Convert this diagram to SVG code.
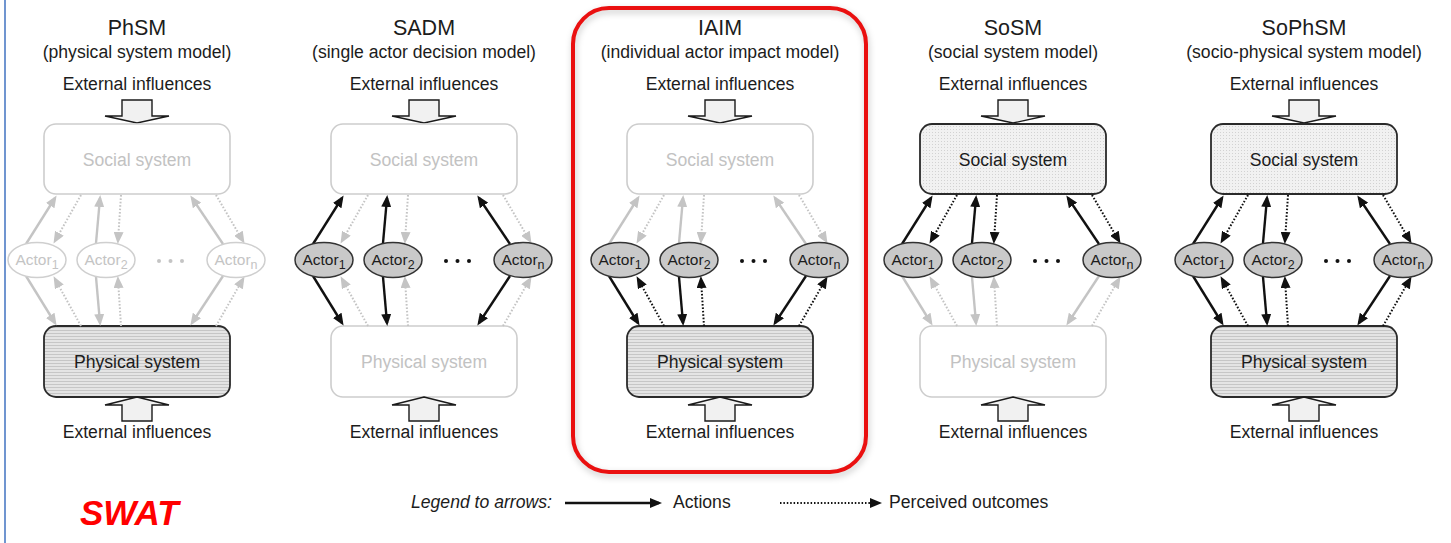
<svg xmlns="http://www.w3.org/2000/svg" width="1451" height="543" viewBox="0 0 1451 543">
<style>
text{font-family:"Liberation Sans",Arial,sans-serif;fill:#1c1c1c}
.t{font-size:21.5px;text-anchor:middle}
.st{font-size:17.6px;text-anchor:middle}
.ext{font-size:17.6px;text-anchor:middle}
.bt{font-size:17.6px;text-anchor:middle}
.btf{font-size:17.6px;text-anchor:middle;fill:#c2c2c2}
.al{font-size:15.5px;text-anchor:middle}
.alf{font-size:15.5px;text-anchor:middle;fill:#c4c4c4}
.sub{font-size:12.5px}
.boxf{fill:#fff;stroke:#cdcdcd;stroke-width:1.6}
.boxp{fill:url(#stripes);stroke:#2a2a2a;stroke-width:1.8}
.boxs{fill:url(#dots);stroke:#2a2a2a;stroke-width:1.8}
.hollow{fill:#f1f1f1;stroke:#1a1a1a;stroke-width:1.4;stroke-linejoin:miter}
.acta{fill:#c9c9c9;stroke:#333;stroke-width:1.5}
.actf{fill:#fff;stroke:#cfcfcf;stroke-width:1.5}
.dotk{fill:#111}
.dotg{fill:#c4c4c4}
.sk{stroke:#111;stroke-width:2.4;fill:none;marker-end:url(#hk)}
.sg{stroke:#c4c4c4;stroke-width:2.4;fill:none;marker-end:url(#hg)}
.dk{stroke:#111;stroke-width:2;stroke-dasharray:1.6 1.8;fill:none;marker-end:url(#hk)}
.dg{stroke:#c4c4c4;stroke-width:2;stroke-dasharray:1.6 1.8;fill:none;marker-end:url(#hg)}
</style>
<defs>
<marker id="hk" markerUnits="userSpaceOnUse" markerWidth="12" markerHeight="10" refX="9" refY="5" orient="auto">
<path d="M0,0 L12,5 L0,10 Z" fill="#111"/>
</marker>
<marker id="hg" markerUnits="userSpaceOnUse" markerWidth="12" markerHeight="10" refX="9" refY="5" orient="auto">
<path d="M0,0 L12,5 L0,10 Z" fill="#c4c4c4"/>
</marker>
<pattern id="stripes" patternUnits="userSpaceOnUse" width="6" height="3">
<rect width="6" height="3" fill="#e4e4e4"/>
<rect width="6" height="1" fill="#c6c6c6"/>
</pattern>
<pattern id="dots" patternUnits="userSpaceOnUse" width="3" height="3">
<rect width="3" height="3" fill="#f1f1f1"/>
<rect width="1" height="1" fill="#d2d2d2"/>
</pattern>
<filter id="blur" x="-10%" y="-10%" width="120%" height="120%">
<feGaussianBlur stdDeviation="3"/>
</filter>
</defs>

<line x1="5" y1="0" x2="5" y2="543" stroke="#7095d0" stroke-width="2"/>

<!-- red highlight -->
<g id="highlight">
<rect x="574" y="11" width="293" height="464" rx="36" fill="none" stroke="#000" stroke-opacity="0.18" stroke-width="5" filter="url(#blur)"/>
<rect x="573" y="8" width="293" height="464" rx="36" fill="none" stroke="#ea1010" stroke-width="4"/>
</g>

<!-- PhSM -->
<g id="phsm" transform="translate(137,0)">
<text class="t" x="0" y="35">PhSM</text>
<text class="st" x="0" y="58">(physical system model)</text>
<g id="phsm-ext-top"><text class="ext" x="0" y="90">External influences</text><path class="hollow" d="M-15,100 H15 V116 H32 L0,123 L-32,116 H-15 Z"/></g>
<g id="phsm-social"><rect class="boxf" x="-93" y="124" width="186" height="70" rx="12"/><text class="btf" x="0" y="166">Social system</text></g>
<g id="phsm-physical"><rect class="boxp" x="-93" y="326" width="186" height="71" rx="12"/><text class="bt" x="0" y="368">Physical system</text></g>
<g id="phsm-ext-bottom"><path class="hollow" d="M0,397 L32,405 H15 V421 H-15 V405 H-32 Z"/><text class="ext" x="0" y="438">External influences</text></g>
<g id="phsm-connectors">
<path class="sg" d="M-111,244 L-82,198"/><path class="dg" d="M-56,195 L-82,241"/>
<path class="sg" d="M-41,243 L-37,198"/><path class="dg" d="M-16,195 L-19,241"/>
<path class="sg" d="M86,244 L55,198"/><path class="dg" d="M79,195 L106,241"/>
<path class="sg" d="M-111,276 L-82,323"/><path class="dg" d="M-56,326 L-82,279"/>
<path class="sg" d="M-41,277 L-37,323"/><path class="dg" d="M-16,326 L-19,279"/>
<path class="sg" d="M86,276 L55,323"/><path class="dg" d="M79,326 L106,279"/>
</g>
<g id="phsm-actor1"><ellipse class="actf" cx="-100" cy="260" rx="29" ry="17.5"/><text class="alf" x="-100" y="265">Actor<tspan class="sub" dy="4">1</tspan></text></g>
<g id="phsm-actor2"><ellipse class="actf" cx="-31" cy="260" rx="29" ry="17.5"/><text class="alf" x="-31" y="265">Actor<tspan class="sub" dy="4">2</tspan></text></g>
<g id="phsm-dots"><circle class="dotg" cx="22" cy="261" r="2"/><circle class="dotg" cx="33.5" cy="261" r="2"/><circle class="dotg" cx="45" cy="261" r="2"/></g>
<g id="phsm-actorn"><ellipse class="actf" cx="99" cy="260" rx="29" ry="17.5"/><text class="alf" x="99" y="265">Actor<tspan class="sub" dy="4">n</tspan></text></g>
</g>

<!-- SADM -->
<g id="sadm" transform="translate(424,0)">
<text class="t" x="0" y="35">SADM</text>
<text class="st" x="0" y="58">(single actor decision model)</text>
<g id="sadm-ext-top"><text class="ext" x="0" y="90">External influences</text><path class="hollow" d="M-15,100 H15 V116 H32 L0,123 L-32,116 H-15 Z"/></g>
<g id="sadm-social"><rect class="boxf" x="-93" y="124" width="186" height="70" rx="12"/><text class="btf" x="0" y="166">Social system</text></g>
<g id="sadm-physical"><rect class="boxf" x="-93" y="326" width="186" height="71" rx="12"/><text class="btf" x="0" y="368">Physical system</text></g>
<g id="sadm-ext-bottom"><path class="hollow" d="M0,397 L32,405 H15 V421 H-15 V405 H-32 Z"/><text class="ext" x="0" y="438">External influences</text></g>
<g id="sadm-connectors">
<path class="sk" d="M-111,244 L-82,198"/><path class="dg" d="M-56,195 L-82,241"/>
<path class="sk" d="M-41,243 L-37,198"/><path class="dg" d="M-16,195 L-19,241"/>
<path class="sk" d="M86,244 L55,198"/><path class="dg" d="M79,195 L106,241"/>
<path class="sk" d="M-111,276 L-82,323"/><path class="dg" d="M-56,326 L-82,279"/>
<path class="sk" d="M-41,277 L-37,323"/><path class="dg" d="M-16,326 L-19,279"/>
<path class="sk" d="M86,276 L55,323"/><path class="dg" d="M79,326 L106,279"/>
</g>
<g id="sadm-actor1"><ellipse class="acta" cx="-100" cy="260" rx="29" ry="17.5"/><text class="al" x="-100" y="265">Actor<tspan class="sub" dy="4">1</tspan></text></g>
<g id="sadm-actor2"><ellipse class="acta" cx="-31" cy="260" rx="29" ry="17.5"/><text class="al" x="-31" y="265">Actor<tspan class="sub" dy="4">2</tspan></text></g>
<g id="sadm-dots"><circle class="dotk" cx="22" cy="261" r="2"/><circle class="dotk" cx="33.5" cy="261" r="2"/><circle class="dotk" cx="45" cy="261" r="2"/></g>
<g id="sadm-actorn"><ellipse class="acta" cx="99" cy="260" rx="29" ry="17.5"/><text class="al" x="99" y="265">Actor<tspan class="sub" dy="4">n</tspan></text></g>
</g>

<!-- IAIM -->
<g id="iaim" transform="translate(720,0)">
<text class="t" x="0" y="35">IAIM</text>
<text class="st" x="0" y="58">(individual actor impact model)</text>
<g id="iaim-ext-top"><text class="ext" x="0" y="90">External influences</text><path class="hollow" d="M-15,100 H15 V116 H32 L0,123 L-32,116 H-15 Z"/></g>
<g id="iaim-social"><rect class="boxf" x="-93" y="124" width="186" height="70" rx="12"/><text class="btf" x="0" y="166">Social system</text></g>
<g id="iaim-physical"><rect class="boxp" x="-93" y="326" width="186" height="71" rx="12"/><text class="bt" x="0" y="368">Physical system</text></g>
<g id="iaim-ext-bottom"><path class="hollow" d="M0,397 L32,405 H15 V421 H-15 V405 H-32 Z"/><text class="ext" x="0" y="438">External influences</text></g>
<g id="iaim-connectors">
<path class="sg" d="M-111,244 L-82,198"/><path class="dg" d="M-56,195 L-82,241"/>
<path class="sg" d="M-41,243 L-37,198"/><path class="dg" d="M-16,195 L-19,241"/>
<path class="sg" d="M86,244 L55,198"/><path class="dg" d="M79,195 L106,241"/>
<path class="sk" d="M-111,276 L-82,323"/><path class="dk" d="M-56,326 L-82,279"/>
<path class="sk" d="M-41,277 L-37,323"/><path class="dk" d="M-16,326 L-19,279"/>
<path class="sk" d="M86,276 L55,323"/><path class="dk" d="M79,326 L106,279"/>
</g>
<g id="iaim-actor1"><ellipse class="acta" cx="-100" cy="260" rx="29" ry="17.5"/><text class="al" x="-100" y="265">Actor<tspan class="sub" dy="4">1</tspan></text></g>
<g id="iaim-actor2"><ellipse class="acta" cx="-31" cy="260" rx="29" ry="17.5"/><text class="al" x="-31" y="265">Actor<tspan class="sub" dy="4">2</tspan></text></g>
<g id="iaim-dots"><circle class="dotk" cx="22" cy="261" r="2"/><circle class="dotk" cx="33.5" cy="261" r="2"/><circle class="dotk" cx="45" cy="261" r="2"/></g>
<g id="iaim-actorn"><ellipse class="acta" cx="99" cy="260" rx="29" ry="17.5"/><text class="al" x="99" y="265">Actor<tspan class="sub" dy="4">n</tspan></text></g>
</g>

<!-- SoSM -->
<g id="sosm" transform="translate(1013,0)">
<text class="t" x="0" y="35">SoSM</text>
<text class="st" x="0" y="58">(social system model)</text>
<g id="sosm-ext-top"><text class="ext" x="0" y="90">External influences</text><path class="hollow" d="M-15,100 H15 V116 H32 L0,123 L-32,116 H-15 Z"/></g>
<g id="sosm-social"><rect class="boxs" x="-93" y="124" width="186" height="70" rx="12"/><text class="bt" x="0" y="166">Social system</text></g>
<g id="sosm-physical"><rect class="boxf" x="-93" y="326" width="186" height="71" rx="12"/><text class="btf" x="0" y="368">Physical system</text></g>
<g id="sosm-ext-bottom"><path class="hollow" d="M0,397 L32,405 H15 V421 H-15 V405 H-32 Z"/><text class="ext" x="0" y="438">External influences</text></g>
<g id="sosm-connectors">
<path class="sk" d="M-111,244 L-82,198"/><path class="dk" d="M-56,195 L-82,241"/>
<path class="sk" d="M-41,243 L-37,198"/><path class="dk" d="M-16,195 L-19,241"/>
<path class="sk" d="M86,244 L55,198"/><path class="dk" d="M79,195 L106,241"/>
<path class="sg" d="M-111,276 L-82,323"/><path class="dg" d="M-56,326 L-82,279"/>
<path class="sg" d="M-41,277 L-37,323"/><path class="dg" d="M-16,326 L-19,279"/>
<path class="sg" d="M86,276 L55,323"/><path class="dg" d="M79,326 L106,279"/>
</g>
<g id="sosm-actor1"><ellipse class="acta" cx="-100" cy="260" rx="29" ry="17.5"/><text class="al" x="-100" y="265">Actor<tspan class="sub" dy="4">1</tspan></text></g>
<g id="sosm-actor2"><ellipse class="acta" cx="-31" cy="260" rx="29" ry="17.5"/><text class="al" x="-31" y="265">Actor<tspan class="sub" dy="4">2</tspan></text></g>
<g id="sosm-dots"><circle class="dotk" cx="22" cy="261" r="2"/><circle class="dotk" cx="33.5" cy="261" r="2"/><circle class="dotk" cx="45" cy="261" r="2"/></g>
<g id="sosm-actorn"><ellipse class="acta" cx="99" cy="260" rx="29" ry="17.5"/><text class="al" x="99" y="265">Actor<tspan class="sub" dy="4">n</tspan></text></g>
</g>

<!-- SoPhSM -->
<g id="sophsm" transform="translate(1304,0)">
<text class="t" x="0" y="35">SoPhSM</text>
<text class="st" x="0" y="58">(socio-physical system model)</text>
<g id="sophsm-ext-top"><text class="ext" x="0" y="90">External influences</text><path class="hollow" d="M-15,100 H15 V116 H32 L0,123 L-32,116 H-15 Z"/></g>
<g id="sophsm-social"><rect class="boxs" x="-93" y="124" width="186" height="70" rx="12"/><text class="bt" x="0" y="166">Social system</text></g>
<g id="sophsm-physical"><rect class="boxp" x="-93" y="326" width="186" height="71" rx="12"/><text class="bt" x="0" y="368">Physical system</text></g>
<g id="sophsm-ext-bottom"><path class="hollow" d="M0,397 L32,405 H15 V421 H-15 V405 H-32 Z"/><text class="ext" x="0" y="438">External influences</text></g>
<g id="sophsm-connectors">
<path class="sk" d="M-111,244 L-82,198"/><path class="dk" d="M-56,195 L-82,241"/>
<path class="sk" d="M-41,243 L-37,198"/><path class="dk" d="M-16,195 L-19,241"/>
<path class="sk" d="M86,244 L55,198"/><path class="dk" d="M79,195 L106,241"/>
<path class="sk" d="M-111,276 L-82,323"/><path class="dk" d="M-56,326 L-82,279"/>
<path class="sk" d="M-41,277 L-37,323"/><path class="dk" d="M-16,326 L-19,279"/>
<path class="sk" d="M86,276 L55,323"/><path class="dk" d="M79,326 L106,279"/>
</g>
<g id="sophsm-actor1"><ellipse class="acta" cx="-100" cy="260" rx="29" ry="17.5"/><text class="al" x="-100" y="265">Actor<tspan class="sub" dy="4">1</tspan></text></g>
<g id="sophsm-actor2"><ellipse class="acta" cx="-31" cy="260" rx="29" ry="17.5"/><text class="al" x="-31" y="265">Actor<tspan class="sub" dy="4">2</tspan></text></g>
<g id="sophsm-dots"><circle class="dotk" cx="22" cy="261" r="2"/><circle class="dotk" cx="33.5" cy="261" r="2"/><circle class="dotk" cx="45" cy="261" r="2"/></g>
<g id="sophsm-actorn"><ellipse class="acta" cx="99" cy="260" rx="29" ry="17.5"/><text class="al" x="99" y="265">Actor<tspan class="sub" dy="4">n</tspan></text></g>
</g>

<!-- legend -->
<g id="legend">
<text x="411" y="508" style="font-size:17.6px;font-style:italic">Legend to arrows:</text>
<path class="sk" d="M565,503 L659,503"/>
<text x="673" y="508" style="font-size:17.6px">Actions</text>
<path d="M780,503 L879,503" stroke="#111" stroke-width="2" stroke-dasharray="1.5 1.9" fill="none" marker-end="url(#hk)"/>
<text x="889" y="508" style="font-size:17.6px">Perceived outcomes</text>
</g>

<text id="swat" x="80" y="525" style="font-size:35px;font-weight:bold;font-style:italic;fill:#ff0000">SWAT</text>
</svg>
